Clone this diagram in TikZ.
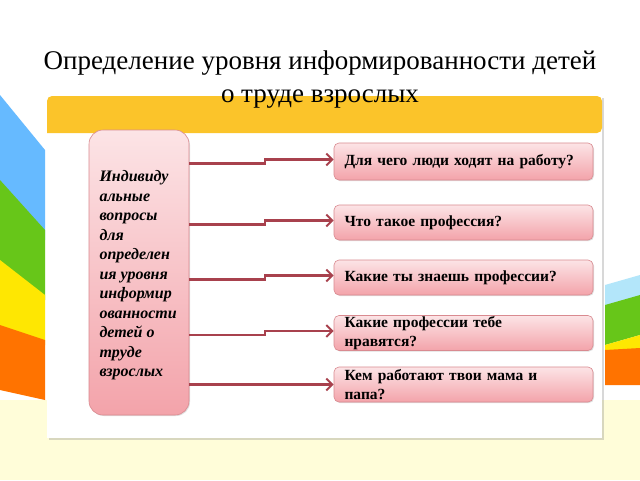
\documentclass[tikz,border=0pt]{standalone}
\usepackage{fontspec}
\setmainfont{Liberation Serif}
\usetikzlibrary{arrows.meta,shadows}
\definecolor{lnk}{HTML}{A8414D}
\definecolor{pinkT}{HTML}{FCE4E6}
\definecolor{pinkB}{HTML}{F3A3AA}
\definecolor{bord}{HTML}{D98A90}
\definecolor{hdr}{HTML}{FBC42A}
\tikzset{
 qbox/.style={draw=bord,rounded corners=5pt,top color=pinkT,bottom color=pinkB,line width=0.6pt,drop shadow={opacity=0.25,shadow xshift=1pt,shadow yshift=-1pt}},
 qtext/.style={anchor=west,align=left,font=\fontsize{15.5}{19}\selectfont\bfseries,text width=250pt},
 link/.style={draw=lnk,line width=2.4pt,-{Straight Barb[length=6pt,width=12pt,line width=2pt]}}
}
\begin{document}
\begin{tikzpicture}[x=1pt,y=-1pt]
\useasboundingbox (0,0) rectangle (640,480);
\fill[white] (0,0) rectangle (640,480);
\fill[yellow!15] (0,400) rectangle (640,480);
% left stripes
\fill[blue!45!cyan!60] (0,95) -- (45,150) -- (45,240) -- (0,205) -- cycle;
\fill[green!55!yellow!75!black!90] (0,180) -- (45,230) -- (45,300) -- (0,265) -- cycle;
\fill[yellow!90!orange] (0,260) -- (45,295) -- (45,345) -- (0,330) -- cycle;
\fill[orange!90!red] (0,325) -- (45,340) -- (45,400) -- (0,390) -- cycle;
% right stripes
\fill[cyan!30] (605,285) -- (640,275) -- (640,300) -- (605,310) -- cycle;
\fill[green!55!yellow!75!black!90] (605,305) -- (640,295) -- (640,335) -- (605,345) -- cycle;
\fill[yellow!90!orange] (605,345) -- (640,335) -- (640,350) -- (605,350) -- cycle;
\fill[orange!90!red] (605,350) -- (640,348) -- (640,385) -- (605,385) -- cycle;
% card
\fill[white,drop shadow={opacity=0.3}] (47,96) rectangle (602,438);
\fill[hdr,rounded corners=5pt] (47,133) -- (47,96) -- (602,96) -- (602,133) [sharp corners] -- cycle;
\node[font=\fontsize{27}{33}\selectfont,align=center] (title) at (320,80) {Определение уровня информированности детей\\о труде взрослых};
% left box
\node[qbox,minimum width=100pt,minimum height=285pt,rounded corners=14pt] (L) at (139,272.5) {};
\node[anchor=north west,align=left,font=\fontsize{16}{19.5}\selectfont\bfseries\itshape] (Lt) at (96,167) {Индивиду\\альные\\вопросы\\для\\определен\\ия уровня\\информир\\ованности\\детей о\\труде\\взрослых};
% right boxes
\node[qbox,minimum width=259pt,minimum height=37pt] (b1) at (463.5,161.5) {};
\node[qbox,minimum width=259pt,minimum height=35pt] (b2) at (463.5,222.5) {};
\node[qbox,minimum width=259pt,minimum height=35pt] (b3) at (463.5,277.5) {};
\node[qbox,minimum width=259pt,minimum height=35pt] (b4) at (463.5,333) {};
\node[qbox,minimum width=259pt,minimum height=35pt] (b5) at (463.5,384.5) {};
\node[qtext] (t1) at (341,161.5) {Для чего люди ходят на работу?};
\node[qtext] (t2) at (341,222.5) {Что такое профессия?};
\node[qtext] (t3) at (341,277.5) {Какие ты знаешь профессии?};
\node[qtext] (t4) at (341,333) {Какие профессии тебе\\нравятся?};
\node[qtext] (t5) at (341,384.5) {Кем работают твои мама и\\папа?};
% links
\foreach \b/\y in {b1/161.5,b2/222.5,b3/277.5,b4/333}{
 \draw[link] (L.east |- 0,\y+2) -- (265,\y+2) -- (265,\y-2) -- (\b.west |- 0,\y-2);
}
\draw[link] (L.east |- 0,384.5) -- (b5.west);
\end{tikzpicture}
\end{document}
